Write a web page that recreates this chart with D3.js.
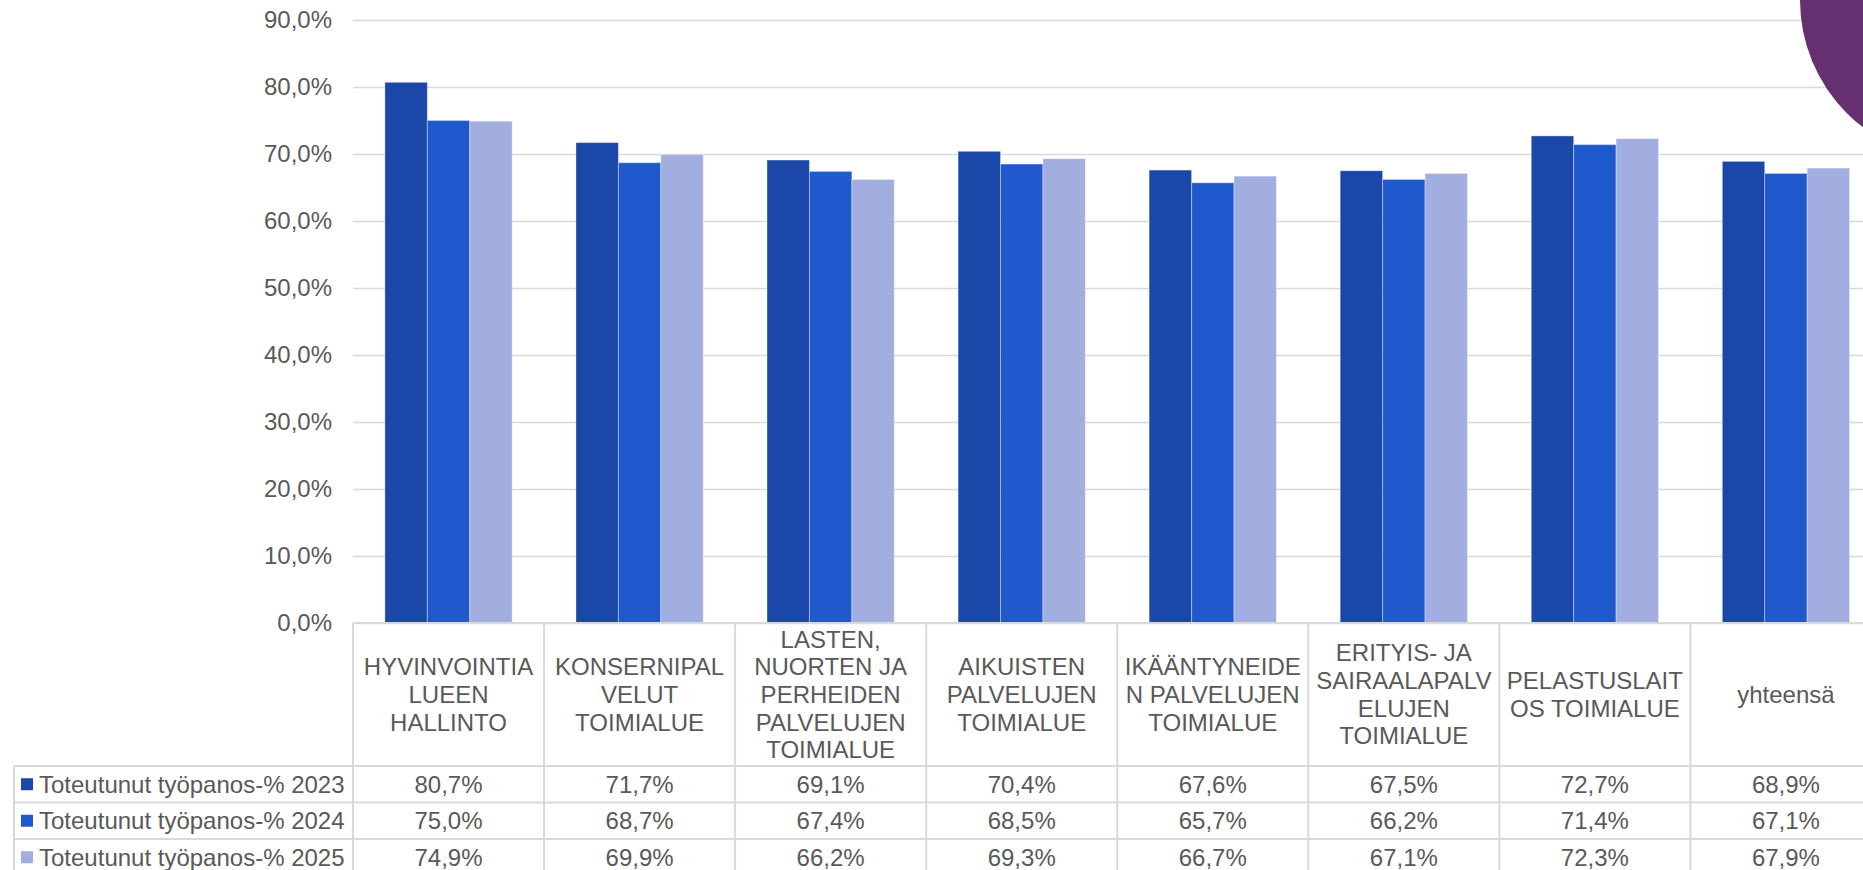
<!DOCTYPE html>
<html>
<head>
<meta charset="utf-8">
<script src="https://cdn.jsdelivr.net/npm/d3@7"></script>
<style>
  html, body { margin: 0; padding: 0; background: #fff; overflow: hidden; }
  svg { display: block; font-family: "Liberation Sans", Arial, sans-serif; }
</style>
</head>
<body>
<div id="chart"></div>
<script>
'use strict';

// category labels, already broken into lines as in the table header
var categories = [
  ["HYVINVOINTIA", "LUEEN", "HALLINTO"],
  ["KONSERNIPAL", "VELUT", "TOIMIALUE"],
  ["LASTEN,", "NUORTEN JA", "PERHEIDEN", "PALVELUJEN", "TOIMIALUE"],
  ["AIKUISTEN", "PALVELUJEN", "TOIMIALUE"],
  ["IKÄÄNTYNEIDE", "N PALVELUJEN", "TOIMIALUE"],
  ["ERITYIS- JA", "SAIRAALAPALV", "ELUJEN", "TOIMIALUE"],
  ["PELASTUSLAIT", "OS TOIMIALUE"],
  ["yhteensä"]
];
var seriesNames = ["Toteutunut työpanos-% 2023", "Toteutunut työpanos-% 2024", "Toteutunut työpanos-% 2025"];
var values2023 = [80.7, 71.7, 69.1, 70.4, 67.6, 67.5, 72.7, 68.9];
var values2024 = [75.0, 68.7, 67.4, 68.5, 65.7, 66.2, 71.4, 67.1];
var values2025 = [74.9, 69.9, 66.2, 69.3, 66.7, 67.1, 72.3, 67.9];
var yTicks = [0, 10, 20, 30, 40, 50, 60, 70, 80, 90];

var seriesValues = [values2023, values2024, values2025];
var colors = ["#1A47A8", "#2059CD", "#A3AEE0"];

var width = 1863, height = 870;
var x0 = 353, colW = 191.06;
var yTop = 20, yBase = 623;
var rowTop = 766, rowH = 36.5;
var tableLeft = 14;
var textColor = "#595959", lineColor = "#d9d9d9";

var pct = function(v) { return d3.format(".1f")(v).replace(".", ",") + "%"; };

var svg = d3.select("#chart").append("svg")
  .attr("width", width)
  .attr("height", height);

var x = d3.scaleBand()
  .domain(d3.range(categories.length))
  .range([x0, x0 + colW * categories.length])
  .padding(0);

var xs = d3.scaleBand()
  .domain(d3.range(seriesNames.length))
  .range([0, x.bandwidth()])
  .paddingInner(0)
  .paddingOuter(0.752);

var y = d3.scaleLinear()
  .domain([0, 90])
  .range([yBase, yTop]);

// gridlines + tick labels
var yAxis = svg.append("g")
  .attr("transform", "translate(" + x0 + ",0)")
  .call(d3.axisLeft(y)
    .tickValues(yTicks)
    .tickSize(-(x.range()[1] - x0))
    .tickPadding(21)
    .tickFormat(pct));
yAxis.select(".domain").remove();
yAxis.selectAll(".tick line")
  .attr("stroke", lineColor)
  .attr("stroke-width", 1.6);
yAxis.selectAll(".tick text")
  .attr("fill", textColor)
  .style("font-size", "24px")
  .style("font-family", "'Liberation Sans', Arial, sans-serif");

// bars
var groups = svg.append("g").selectAll("g")
  .data(categories)
  .enter().append("g")
  .attr("transform", function(d, i) { return "translate(" + x(i) + ",0)"; });

groups.selectAll("rect")
  .data(function(d, i) { return seriesValues.map(function(s, k) { return {k: k, v: s[i]}; }); })
  .enter().append("rect")
  .attr("x", function(d) { return xs(d.k); })
  .attr("width", xs.bandwidth())
  .attr("y", function(d) { return y(d.v); })
  .attr("height", function(d) { return yBase - y(d.v); })
  .attr("fill", function(d) { return colors[d.k]; })
  .attr("stroke", "rgba(255,255,255,0.35)")
  .attr("stroke-width", 1);

// data table lines
var table = svg.append("g");
var nCols = categories.length;
var tableRight = x(nCols - 1) + colW;

table.selectAll("line.v")
  .data(d3.range(nCols + 1))
  .enter().append("line")
  .attr("x1", function(i) { return x0 + i * colW; })
  .attr("x2", function(i) { return x0 + i * colW; })
  .attr("y1", yBase)
  .attr("y2", height + 10)
  .attr("stroke", lineColor)
  .attr("stroke-width", 2);

table.selectAll("line.h")
  .data(d3.range(seriesNames.length + 1))
  .enter().append("line")
  .attr("x1", tableLeft)
  .attr("x2", tableRight)
  .attr("y1", function(r) { return rowTop + r * rowH; })
  .attr("y2", function(r) { return rowTop + r * rowH; })
  .attr("stroke", lineColor)
  .attr("stroke-width", 2);

table.append("line")
  .attr("x1", tableLeft).attr("x2", tableLeft)
  .attr("y1", rowTop).attr("y2", height + 10)
  .attr("stroke", lineColor)
  .attr("stroke-width", 2);

table.append("line")
  .attr("x1", x0).attr("x2", tableRight)
  .attr("y1", yBase).attr("y2", yBase)
  .attr("stroke", lineColor)
  .attr("stroke-width", 2);

// category headers
var lineH = 27.7;
var headMid = (yBase + rowTop) / 2;
groups.append("text")
  .attr("text-anchor", "middle")
  .attr("fill", textColor)
  .style("font-size", "24px")
  .each(function(d) {
    var t = d3.select(this);
    var n = d.length;
    d.forEach(function(line, j) {
      t.append("tspan")
        .attr("x", x.bandwidth() / 2)
        .attr("y", headMid + (j - (n - 1) / 2) * lineH)
        .attr("dy", "0.35em")
        .text(line);
    });
  });

// legend column + values
seriesNames.forEach(function(name, k) {
  var cy = rowTop + k * rowH + rowH / 2;
  svg.append("rect")
    .attr("x", 21)
    .attr("y", cy - 6)
    .attr("width", 12)
    .attr("height", 12)
    .attr("fill", colors[k]);
  svg.append("text")
    .attr("x", 39)
    .attr("y", cy)
    .attr("dy", "0.35em")
    .attr("fill", textColor)
    .style("font-size", "24px")
    .text(name);

  svg.append("g").selectAll("text")
    .data(seriesValues[k])
    .enter().append("text")
    .attr("x", function(d, i) { return x(i) + x.bandwidth() / 2; })
    .attr("y", cy)
    .attr("dy", "0.35em")
    .attr("text-anchor", "middle")
    .attr("fill", textColor)
    .style("font-size", "24px")
    .text(pct);
});

// decorative circle in the corner
svg.append("circle")
  .attr("cx", 1960)
  .attr("cy", 0)
  .attr("r", 160)
  .attr("fill", "#662F70");
</script>
</body>
</html>
